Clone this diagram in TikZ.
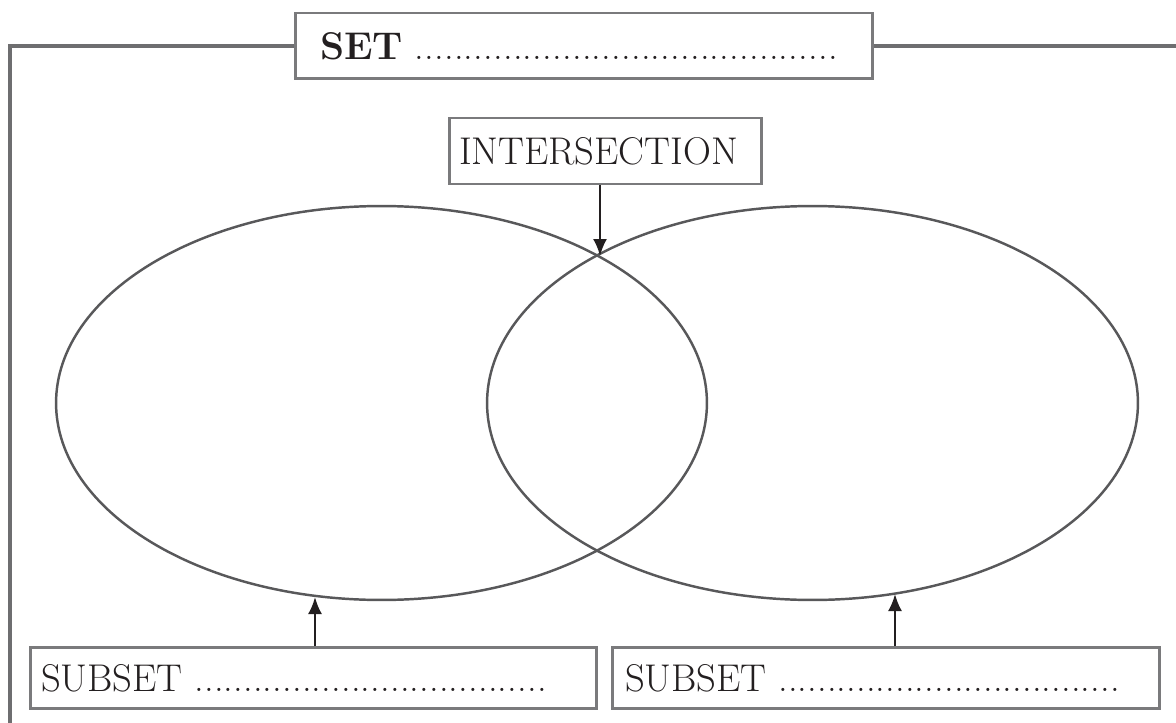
\documentclass[tikz,border=0pt]{standalone}
\usepackage{fontspec}
\usepackage{tikz}
\usetikzlibrary{positioning,arrows.meta,shapes.geometric}
\definecolor{framegray}{RGB}{110,110,112}
\definecolor{boxgray}{RGB}{122,122,124}
\definecolor{ringgray}{RGB}{88,88,90}
\definecolor{inkblack}{RGB}{35,31,32}
\newcommand{\dotline}{\xleaders\hbox to 0.25em{\hss.\hss}\hfill}

\begin{document}
\begin{tikzpicture}[
    x=0.02cm, y=-0.02cm,
    every node/.style={font=\fontsize{22}{26}\selectfont, text=inkblack},
    labelbox/.style={rectangle, draw=boxgray, line width=1.7pt, fill=white, inner xsep=0pt, inner ysep=0pt},
    setring/.style={ellipse, draw=ringgray, line width=1.4pt, minimum width=13.02cm, minimum height=7.88cm, inner sep=0pt},
    arrow/.style={-{Latex[length=0.34cm, width=0.28cm]}, line width=1.3pt, color=inkblack}
]
\useasboundingbox (0,0) rectangle (1176,723);

% Outer frame
\draw[framegray, line width=2.8pt] (10,723) -- (10,46) -- (1176,46);

% Title box
\node[labelbox, minimum height=1.32cm] (setbox) at (584,46) {\makebox[11.56cm][l]{\hspace{0.5cm}\textbf{SET}\hspace{0.3em}\dotline\hspace{0.7cm}}};

% Venn rings
\node[setring] (ringL) at (381.5,403) {};
\node[setring] (ringR) at (812.5,403) {};

% Intersection label
\node[labelbox, minimum height=1.32cm] (inter) at (605.5,151) {\makebox[6.26cm][l]{\hspace{0.2cm}INTERSECTION}};

% Subset labels
\node[labelbox, minimum height=1.22cm] (subL) at (313.5,678) {\makebox[11.34cm][l]{\hspace{0.22cm}SUBSET\hspace{0.3em}\dotline\hspace{1cm}}};
\node[labelbox, minimum height=1.22cm] (subR) at (886,678) {\makebox[10.96cm][l]{\hspace{0.26cm}SUBSET\hspace{0.3em}\dotline\hspace{0.8cm}}};

% Pointers
\coordinate (meet) at (600,256);
\coordinate (lowL) at (315,597);
\coordinate (lowR) at (895,594);
\draw[arrow] (inter.south -| meet) -- (meet);
\draw[arrow] (subL.north -| lowL) -- (lowL);
\draw[arrow] (subR.north -| lowR) -- (lowR);

\end{tikzpicture}
\end{document}
